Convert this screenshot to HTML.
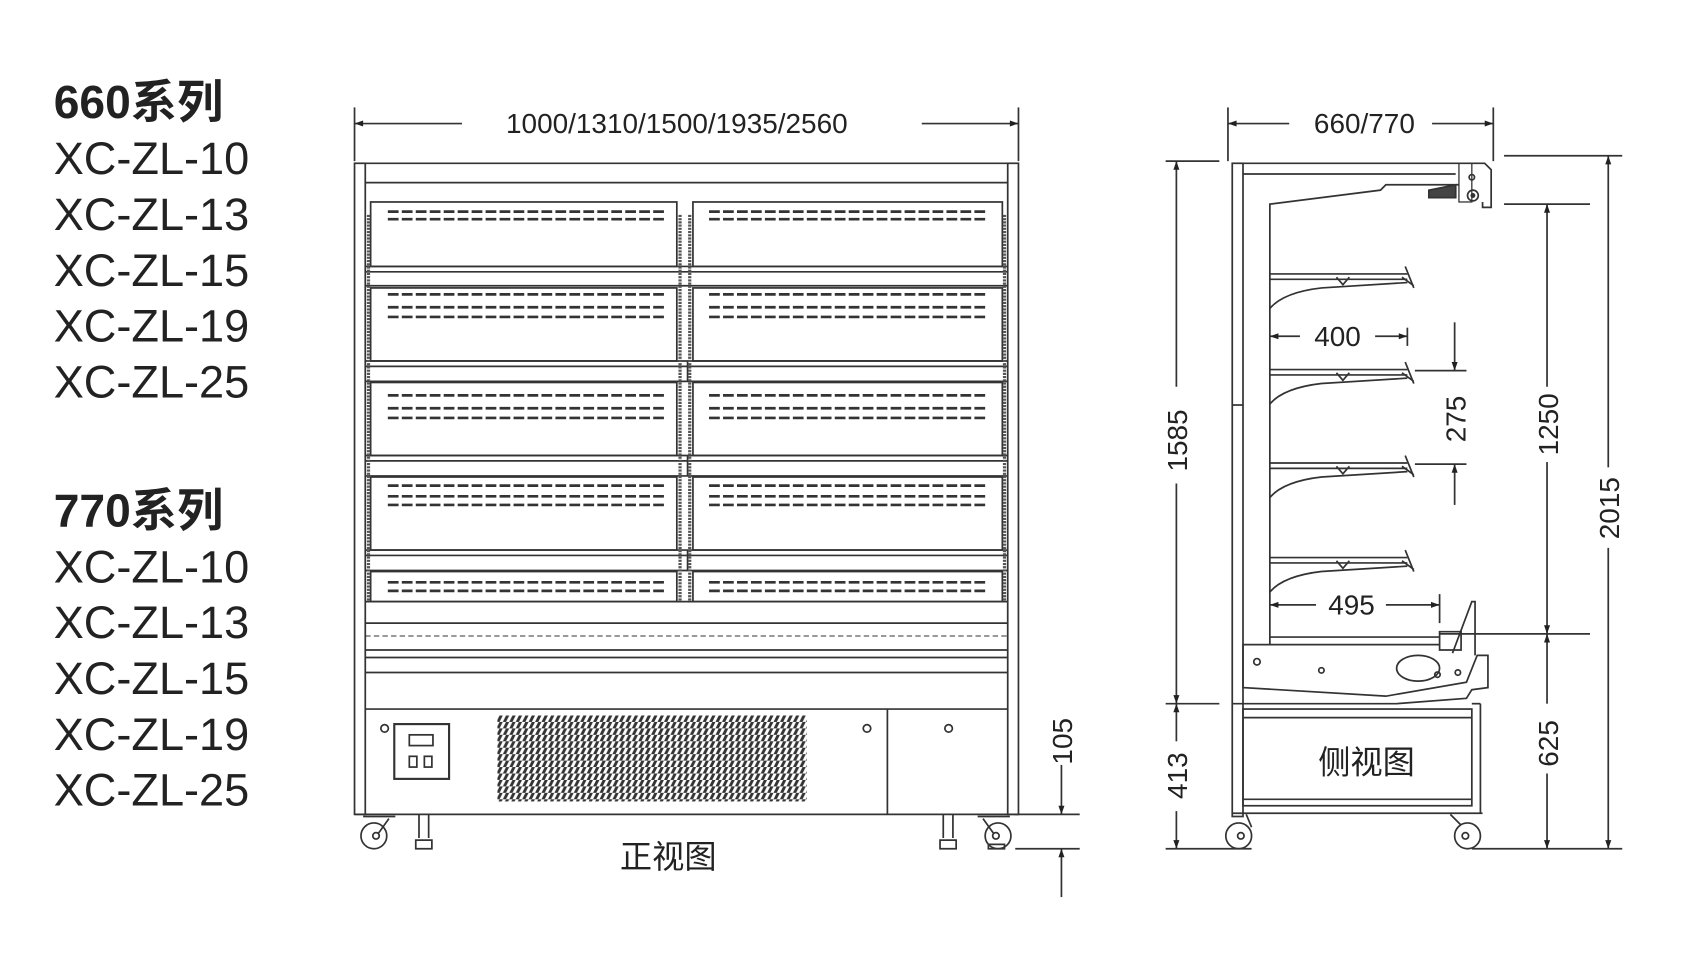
<!DOCTYPE html>
<html><head><meta charset="utf-8"><style>
html,body{margin:0;padding:0;background:#fff;}
svg{display:block}
text{font-family:"Liberation Sans","Noto Sans CJK SC",sans-serif;fill:#222}
</style></head><body>
<svg width="1685" height="954" viewBox="0 0 1568 888" preserveAspectRatio="xMinYMin meet" xmlns="http://www.w3.org/2000/svg">
<defs>
<marker id="a" viewBox="0 0 10 10" refX="10" refY="5" markerWidth="14" markerHeight="8" orient="auto-start-reverse" markerUnits="userSpaceOnUse"><path d="M0,1.5 L10,5 L0,8.5 Z" fill="#222"/></marker>
<pattern id="g" width="6" height="6" patternUnits="userSpaceOnUse"><path d="M0,6 L3,0 L6,0 L3,6 Z" fill="#333"/></pattern>
</defs>
<g>
<text x="50" y="110" font-size="43" font-weight="bold" fill="#111">660系列</text>
<g font-size="42" fill="#222">
<text x="50" y="162">XC-ZL-10</text><text x="50" y="214">XC-ZL-13</text><text x="50" y="266">XC-ZL-15</text><text x="50" y="318">XC-ZL-19</text><text x="50" y="370">XC-ZL-25</text>
</g>
<text x="50" y="490" font-size="43" font-weight="bold" fill="#111">770系列</text>
<g font-size="42" fill="#222">
<text x="50" y="542">XC-ZL-10</text><text x="50" y="594">XC-ZL-13</text><text x="50" y="646">XC-ZL-15</text><text x="50" y="698">XC-ZL-19</text><text x="50" y="750">XC-ZL-25</text>
</g>
</g>

<g stroke="#333" stroke-width="1.6" fill="none">
<line x1="330" y1="100" x2="330" y2="150"/><line x1="948" y1="100" x2="948" y2="150"/>
<line x1="330" y1="115" x2="430" y2="115" marker-start="url(#a)"/>
<line x1="858" y1="115" x2="948" y2="115" marker-end="url(#a)"/>
<rect x="330" y="152" width="10" height="606"/><rect x="938" y="152" width="10" height="606"/>
<line x1="340" y1="152" x2="938" y2="152"/><line x1="340" y1="170" x2="938" y2="170"/>
<g>
<rect x="345" y="188" width="285" height="60"/><rect x="645" y="188" width="288" height="60"/>
<rect x="345" y="268" width="285" height="68"/><rect x="645" y="268" width="288" height="68"/>
<rect x="345" y="356" width="285" height="68"/><rect x="645" y="356" width="288" height="68"/>
<rect x="345" y="444" width="285" height="68"/><rect x="645" y="444" width="288" height="68"/>
<rect x="345" y="532" width="285" height="28"/><rect x="645" y="532" width="288" height="28"/>
</g>
<g>
<line x1="340" y1="248" x2="938" y2="248"/><line x1="340" y1="253" x2="938" y2="253"/><line x1="340" y1="266" x2="938" y2="266"/>
<line x1="340" y1="336" x2="938" y2="336"/><line x1="340" y1="341" x2="938" y2="341"/><line x1="340" y1="355" x2="938" y2="355"/>
<line x1="340" y1="424" x2="938" y2="424"/><line x1="340" y1="429" x2="938" y2="429"/><line x1="340" y1="443" x2="938" y2="443"/>
<line x1="340" y1="512" x2="938" y2="512"/><line x1="340" y1="517" x2="938" y2="517"/><line x1="340" y1="531" x2="938" y2="531"/>
<line x1="640" y1="336" x2="640" y2="355"/><line x1="640" y1="424" x2="640" y2="443"/><line x1="640" y1="512" x2="640" y2="531"/>
<line x1="340" y1="560" x2="938" y2="560"/>
<line x1="340" y1="580" x2="938" y2="580"/>
<line x1="340" y1="592" x2="938" y2="592" stroke-dasharray="5 3" stroke-width="1"/>
<line x1="340" y1="605" x2="938" y2="605"/><line x1="340" y1="612" x2="938" y2="612"/><line x1="340" y1="626" x2="938" y2="626"/>
<line x1="340" y1="660" x2="938" y2="660"/><line x1="330" y1="758" x2="948" y2="758"/>
<line x1="826" y1="660" x2="826" y2="758"/>
</g>
<g stroke-width="3" stroke-dasharray="2 1" stroke="#555">
<line x1="343" y1="200" x2="343" y2="560"/><line x1="935" y1="200" x2="935" y2="560"/>
<line x1="633" y1="200" x2="633" y2="560"/><line x1="642" y1="200" x2="642" y2="560"/>
</g>
<g stroke-width="2.5" stroke-dasharray="10 3" stroke="#333">
<line x1="361" y1="197" x2="620" y2="197"/><line x1="361" y1="204" x2="620" y2="204"/>
<line x1="660" y1="197" x2="918" y2="197"/><line x1="660" y1="204" x2="918" y2="204"/>
<line x1="361" y1="274" x2="620" y2="274"/><line x1="361" y1="286" x2="620" y2="286"/><line x1="361" y1="295" x2="620" y2="295"/>
<line x1="660" y1="274" x2="918" y2="274"/><line x1="660" y1="286" x2="918" y2="286"/><line x1="660" y1="295" x2="918" y2="295"/>
<line x1="361" y1="368" x2="620" y2="368"/><line x1="361" y1="380" x2="620" y2="380"/><line x1="361" y1="389" x2="620" y2="389"/>
<line x1="660" y1="368" x2="918" y2="368"/><line x1="660" y1="380" x2="918" y2="380"/><line x1="660" y1="389" x2="918" y2="389"/>
<line x1="361" y1="452" x2="620" y2="452"/><line x1="361" y1="462" x2="620" y2="462"/><line x1="361" y1="470" x2="620" y2="470"/>
<line x1="660" y1="452" x2="918" y2="452"/><line x1="660" y1="462" x2="918" y2="462"/><line x1="660" y1="470" x2="918" y2="470"/>
<line x1="361" y1="542" x2="620" y2="542"/><line x1="361" y1="550" x2="620" y2="550"/>
<line x1="660" y1="542" x2="918" y2="542"/><line x1="660" y1="550" x2="918" y2="550"/>
</g>
<rect x="367" y="674" width="51" height="51" stroke-width="2"/>
<rect x="381" y="684" width="22" height="10"/>
<rect x="381" y="704" width="7" height="10"/><rect x="395" y="704" width="7" height="10"/>
<circle cx="358" cy="678" r="3.5"/><circle cx="807" cy="678" r="3.5"/><circle cx="883" cy="678" r="3.5"/>
<rect x="463" y="666" width="288" height="80" fill="url(#g)" stroke="none"/>
<circle cx="348" cy="778" r="12"/><circle cx="350" cy="778" r="3"/>
<path d="M338,760 L368,760 M362,762 L352,776"/>
<path d="M390,758 V780 M399,758 V780 M387,782 H402 V790 H387 Z"/>
<path d="M878,758 V780 M887,758 V780 M875,782 H890 V790 H875 Z"/>
<circle cx="929" cy="778" r="12"/><circle cx="927" cy="778" r="3"/>
<path d="M910,760 L940,760 M915,762 L925,776 M920,786 H935 V790 H920 Z"/>
<line x1="945" y1="758" x2="1005" y2="758"/><line x1="945" y1="790" x2="1005" y2="790"/>
<line x1="988" y1="712" x2="988" y2="758" marker-end="url(#a)"/>
<line x1="988" y1="835" x2="988" y2="790" marker-end="url(#a)"/>

<line x1="1143" y1="100" x2="1143" y2="150"/><line x1="1390" y1="100" x2="1390" y2="150"/>
<line x1="1143" y1="115" x2="1200" y2="115" marker-start="url(#a)"/>
<line x1="1333" y1="115" x2="1390" y2="115" marker-end="url(#a)"/>
<rect x="1147" y="152" width="10" height="608"/>
<line x1="1147" y1="377" x2="1157" y2="377"/>
<path d="M1157,152 H1382 L1388,158 V193 H1380 V188 M1157,162 H1355"/>
<rect x="1358" y="152" width="12" height="36" stroke-width="1.2"/>
<circle cx="1371" cy="182" r="5"/><circle cx="1371" cy="182" r="1.5" fill="#333"/><circle cx="1370" cy="165" r="2.5"/>
<path d="M1330,177 L1355,172 L1355,184 L1330,184 Z" fill="#444"/>
<path d="M1182,600 V190 L1285,177 L1290,172 H1358"/>
<g id="shelf">
<path d="M1182,255 H1310 M1182,260 H1310 M1244,258 L1250,265 L1256,258"/>
<path d="M1308,248 L1316,268 M1305,258 L1316,266"/>
<path d="M1182,287 Q1195,272 1230,268 L1310,263"/>
</g>
<use href="#shelf" y="89"/><use href="#shelf" y="176"/><use href="#shelf" y="264"/>
<path d="M1157,600 H1340 M1182,593 H1340"/>
<path d="M1157,600 V640 L1290,648 L1365,635 L1375,610 L1385,610 V640 L1370,642 L1365,650 L1300,655 H1147"/>
<ellipse cx="1320" cy="622" rx="20" ry="12"/>
<circle cx="1170" cy="616" r="3"/><circle cx="1230" cy="624" r="2.5"/><circle cx="1338" cy="628" r="2.5"/><circle cx="1357" cy="626" r="2.5"/>
<path d="M1340,588 H1360 V605 H1340 Z M1352,608 L1370,560 L1373,560 L1373,610"/>
<rect x="1157" y="660" width="213" height="90"/><line x1="1157" y1="668" x2="1370" y2="668"/><line x1="1157" y1="744" x2="1370" y2="744"/>
<line x1="1147" y1="757" x2="1380" y2="757"/><line x1="1370" y1="655" x2="1378" y2="655"/><line x1="1378" y1="655" x2="1378" y2="757"/>
<circle cx="1153" cy="778" r="12"/><circle cx="1155" cy="778" r="3"/><path d="M1160,758 L1165,770"/>
<circle cx="1366" cy="778" r="12"/><circle cx="1364" cy="778" r="3"/><path d="M1350,758 L1360,768"/>
<line x1="1085" y1="150" x2="1135" y2="150"/><line x1="1085" y1="655" x2="1135" y2="655"/><line x1="1085" y1="790" x2="1165" y2="790"/>
<line x1="1095" y1="360" x2="1095" y2="150" marker-end="url(#a)"/>
<line x1="1095" y1="450" x2="1095" y2="655" marker-end="url(#a)"/>
<line x1="1095" y1="690" x2="1095" y2="655" marker-end="url(#a)"/>
<line x1="1095" y1="755" x2="1095" y2="790" marker-end="url(#a)"/>
<line x1="1210" y1="313" x2="1182" y2="313" marker-end="url(#a)"/>
<line x1="1280" y1="313" x2="1310" y2="313" marker-end="url(#a)"/>
<line x1="1310" y1="305" x2="1310" y2="322"/>
<line x1="1225" y1="563" x2="1182" y2="563" marker-end="url(#a)"/>
<line x1="1290" y1="563" x2="1340" y2="563" marker-end="url(#a)"/>
<line x1="1340" y1="553" x2="1340" y2="580"/>
<line x1="1317" y1="345" x2="1365" y2="345"/><line x1="1317" y1="432" x2="1365" y2="432"/>
<line x1="1354" y1="300" x2="1354" y2="345" marker-end="url(#a)"/>
<line x1="1354" y1="470" x2="1354" y2="432" marker-end="url(#a)"/>
<line x1="1400" y1="190" x2="1480" y2="190"/><line x1="1340" y1="590" x2="1480" y2="590"/>
<line x1="1440" y1="360" x2="1440" y2="190" marker-end="url(#a)"/>
<line x1="1440" y1="430" x2="1440" y2="590" marker-end="url(#a)"/>
<line x1="1440" y1="655" x2="1440" y2="590" marker-end="url(#a)"/>
<line x1="1440" y1="720" x2="1440" y2="790" marker-end="url(#a)"/>
<line x1="1400" y1="145" x2="1510" y2="145"/><line x1="1370" y1="790" x2="1510" y2="790"/>
<line x1="1497" y1="435" x2="1497" y2="145" marker-end="url(#a)"/>
<line x1="1497" y1="510" x2="1497" y2="790" marker-end="url(#a)"/>
</g>

<g font-size="26" fill="#222">
<text x="630" y="124" text-anchor="middle">1000/1310/1500/1935/2560</text>
<text x="1270" y="124" text-anchor="middle">660/770</text>
<text x="1245" y="322" text-anchor="middle">400</text>
<text x="1258" y="572" text-anchor="middle">495</text>
<text transform="translate(998,690) rotate(-90)" text-anchor="middle">105</text>
<text transform="translate(1105,410) rotate(-90)" text-anchor="middle">1585</text>
<text transform="translate(1105,722) rotate(-90)" text-anchor="middle">413</text>
<text transform="translate(1364,390) rotate(-90)" text-anchor="middle">275</text>
<text transform="translate(1450,395) rotate(-90)" text-anchor="middle">1250</text>
<text transform="translate(1450,692) rotate(-90)" text-anchor="middle">625</text>
<text transform="translate(1507,473) rotate(-90)" text-anchor="middle">2015</text>
<text x="622" y="808" text-anchor="middle" font-size="30">正视图</text>
<text x="1272" y="720" text-anchor="middle" font-size="30">侧视图</text>
</g>
</svg>
</body></html>
